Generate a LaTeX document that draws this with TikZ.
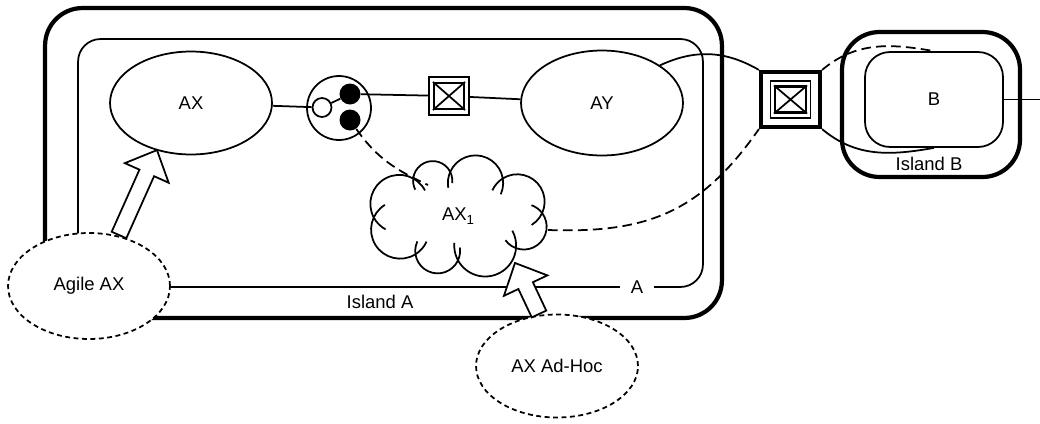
\documentclass[tikz,border=0pt]{standalone}
\usepackage{fontspec}
\setmainfont{Liberation Sans}
\usetikzlibrary{shapes.geometric,calc}

\begin{document}
\begin{tikzpicture}[x=0.02cm,y=-0.02cm,
  every node/.style={font=\fontsize{10.5}{12}\selectfont},
  fine/.style={line width=1pt},
  heavy/.style={line width=2.4pt},
  islandbox/.style={draw, heavy, inner sep=0pt},
  innerbox/.style={draw, fine, inner sep=0pt},
  ellnode/.style={ellipse, draw, fine, fill=white, inner sep=0pt,
    minimum width=3.24cm, minimum height=2.06cm},
  agentell/.style={ellnode, line width=1pt, dash pattern=on 2.8pt off 2pt},
  dashlink/.style={fine, dash pattern=on 5.5pt off 3pt},
  arrowbody/.style={draw, fill=white, fine, line join=miter},
  portbox/.style={draw, inner sep=0pt},
  dot/.style={circle, inner sep=0pt}
]
\useasboundingbox (0,0) rectangle (1040,423);

% island A: outer frame and inner domain
\node[islandbox, rounded corners=0.75cm, minimum width=13.54cm, minimum height=6.2cm] (islA) at (383.5,163) {};
\node[innerbox, rounded corners=0.45cm, minimum width=12.5cm, minimum height=4.96cm] (islAin) at (390.5,163) {};

% island B
\node[islandbox, rounded corners=0.75cm, minimum width=3.56cm, minimum height=2.9cm] (islB) at (931,104.5) {};
\node[innerbox, rounded corners=0.5cm, minimum width=2.76cm, minimum height=1.9cm] (binner) at (934,99.5) {B};
\coordinate (bexit) at (1040,99.5);

% agents AX and AY
\node[ellnode] (ax) at (191,103) {AX};
\node[ellnode, minimum height=2.1cm] (ay) at (602,103) {AY};

% composite connector
\node[dot, draw, fine, minimum size=1.28cm] (cc) at (339,108) {};
\node[dot, draw, fine, fill=white, minimum size=0.38cm] (oc) at (322,107.5) {};
\node[dot, fill=black, minimum size=0.42cm] (fc1) at (350,94) {};
\node[dot, fill=black, minimum size=0.42cm] (fc2) at (350,120) {};

% small port box
\node[portbox, fine, minimum width=0.8cm, minimum height=0.76cm] (sb) at (449,96) {};
\node[portbox, line width=1.2pt, minimum width=0.6cm, minimum height=0.52cm] (sbx) at (sb) {};
\draw[fine] (sbx.north west) -- (sbx.south east) (sbx.north east) -- (sbx.south west);

% gateway box between the islands
\node[portbox, heavy, minimum width=1.18cm, minimum height=1.1cm] (gw) at (790.5,99.5) {};
\node[portbox, fine, minimum width=0.8cm, minimum height=0.74cm] (gwmid) at (gw) {};
\node[portbox, line width=1.2pt, minimum width=0.62cm, minimum height=0.52cm] (gwx) at (gw) {};
\draw[fine] (gwx.north west) -- (gwx.south east) (gwx.north east) -- (gwx.south west);

% ad-hoc agent: a hand-drawn cloud of overlapping puffs around a core ellipse
\node[ellipse, minimum width=3.36cm, minimum height=1.76cm, inner sep=0pt] (cloud) at (458,216)
  {AX\raisebox{-0.45ex}{\fontsize{7.5}{8}\selectfont 1}};
\foreach \a/\b in {2/40,40/100,100/140,140/181,181/222,222/270,270/331,331/2} {
  \draw[fine] let \p1=(cloud.\a), \p2=(cloud.\b),
      \n1={atan2(\y2-\y1,\x2-\x1)}, \n2={0.5*veclen(\x2-\x1,\y2-\y1)},
      \n3={0.3*\n2}, \n4={1.044*\n2} in
    ($(\p1)!0.5!(\p2)$) ++(\n1+90:\n3) ++(\n1+163:\n4)
    arc[start angle=\n1+163, end angle=\n1+377, radius=\n4];
}
\coordinate (cloudin) at ($(cloud.center)+(-30,-31)$);
\coordinate (cloudout) at ($(cloud.center)+(90,14)$);

% connectors
\draw[fine] (ax) -- (oc);
\draw[fine] (oc) -- (fc1);
\draw[fine] (fc1) -- (sb);
\draw[fine] (sb) -- (ay);
\draw[dashlink] (fc2) to[out=-55, in=155] (cloudin);
\draw[dashlink] (cloudout) to[out=-2, in=235, looseness=1.1] (gw.south west);
\draw[fine] (ay.33) to[out=25, in=150] (gw.north west);
\draw[dashlink] (gw.north east) to[out=40, in=170] (binner.north);
\draw[fine] (gw.south east) to[out=-40, in=190] (binner.south);
\draw[fine] (binner.east) -- (bexit);

% labels
\node[fill=white, inner xsep=6pt, inner ysep=1pt] (lblA) at (637,287) {A};
\node (lblIslA) at (380,302) {Island A};
\node (lblIslB) at (929,164) {Island B};

% external agents
\node[agentell, minimum height=2.12cm] (agile) at (89,286) {Agile AX};
\node[agentell] (adhoc) at (557,366) {AX Ad-Hoc};

% hollow arrows from the external agents
\coordinate (agtail) at (119,235);
\draw[arrowbody, shift={(agtail)}, rotate=65.9]
  (0,8) -- (68,8) -- (68,24) -- (93,0) -- (68,-24) -- (68,-8) -- (0,-8) -- cycle;
\coordinate (ahtail) at (539,314);
\draw[arrowbody, shift={(ahtail)}, rotate=115.2]
  (0,8) -- (31.4,8) -- (31.4,24) -- (56.4,0) -- (31.4,-24) -- (31.4,-8) -- (0,-8) -- cycle;
\end{tikzpicture}
\end{document}
